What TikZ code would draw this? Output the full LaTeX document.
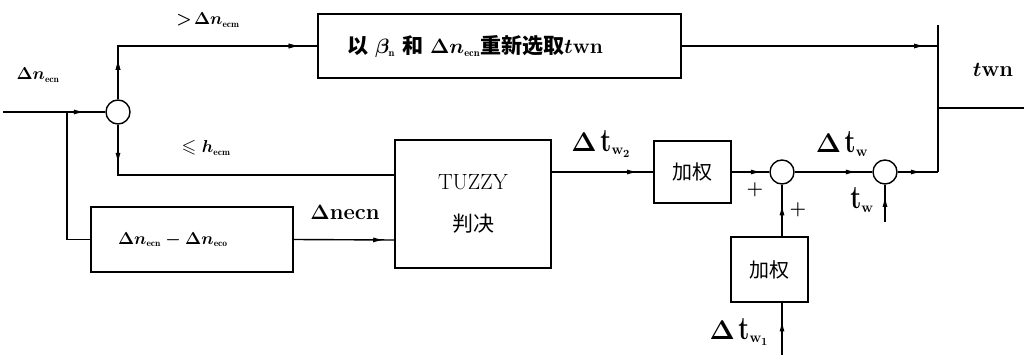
\documentclass[tikz,border=0pt]{standalone}
\usepackage{amssymb}
\usepackage{graphicx}
\usepackage{fontspec}
\newfontfamily\cjk{Noto Sans CJK SC}
\usetikzlibrary{arrows.meta,decorations.markings}
\newcommand\sbs[1]{_{\scriptscriptstyle\mathrm{#1}}}
\newcommand\bigt{\scalebox{1.15}[1.5]{\bfseries t}}
\newcommand\bigD{\scalebox{1.3}{$\boldsymbol{\Delta}$}}
\newcommand\mytoptext{{\cjk 以} $\beta\sbs{n}$ {\cjk 和} $\Delta n\sbs{ecn}${\cjk 重新选取}$t$wn}
\newcommand\mydifftext{$\Delta n\sbs{ecn}-\Delta n\sbs{eco}$}
\usepackage{amsmath}
\tikzset{
  ln/.style={line width=1.4pt},
  box/.style={draw,line width=1.4pt,shape=rectangle,inner sep=0pt},
  sumnode/.style={draw,line width=1.4pt,shape=circle,minimum size=24pt,inner sep=0pt},
  lbl/.style={inner sep=0pt,font=\fontsize{19}{21}\selectfont\bfseries\boldmath},
  biglbl/.style={inner sep=0pt,font=\fontsize{22}{24}\selectfont\bfseries\boldmath},
  arr/.style={postaction={decorate},decoration={markings,mark=at position #1 with {\arrow{Latex[length=11pt,width=5pt]}}}},
}
\begin{document}
\begin{tikzpicture}[x=1pt,y=-1pt]
\useasboundingbox (0,0) rectangle (1024,355);
\node[sumnode] (c1) at (118,112) {};
\node[box,minimum width=363pt,minimum height=64pt,text width=305pt,align=left,font=\fontsize{21}{23}\selectfont\bfseries\boldmath] (topbox) at (499.5,46) {\mytoptext};
\node[box,minimum width=202pt,minimum height=65pt,text width=148pt,align=left,font=\fontsize{19}{21}\selectfont\bfseries\boldmath] (diff) at (192,239.5) {\mydifftext};
\node[box,minimum width=156pt,minimum height=128pt,align=center,font=\fontsize{22}{25}\selectfont] (fz) at (473,204) {TUZZY\\[17pt]{\cjk\fontsize{21}{23}\selectfont 判决}};
\node[box,minimum width=77pt,minimum height=62pt,font=\fontsize{20}{22}\selectfont\cjk] (w1) at (692.5,172) {加权};
\node[sumnode] (c2) at (782,172) {};
\node[box,minimum width=77pt,minimum height=65pt,font=\fontsize{20}{22}\selectfont\cjk] (w2) at (769.5,269.5) {加权};
\node[sumnode] (c3) at (885,172) {};
\coordinate (in0) at (3,112);
\coordinate (j) at (67,112);
\coordinate (bt) at (938,25);
\coordinate (bb) at (938,172);
\coordinate (bo) at (938,108);
\coordinate (out) at (1024,108);
\coordinate (in1) at (782,355);
\coordinate (in2) at (885,222);
\draw[ln,arr=0.8] (in0) -- (c1.west);
\draw[ln,arr=0.16,arr=0.93] (c1.north) |- (topbox.west);
\draw[ln,arr=0.12] (c1.south) |- ([yshift=29pt]fz.west);
\draw[ln] (j) |- (diff.west);
\draw[ln,arr=0.9] (diff.east) -- ([yshift=-36pt]fz.west);
\draw[ln,arr=0.85] ([yshift=32pt]fz.east) -- (w1.west);
\draw[ln,arr=0.8] (w1.east) -- (c2.west);
\draw[ln,arr=0.62] (w2.north -| c2.south) -- (c2.south);
\draw[ln,arr=0.66] (in1) -- (w2.south -| c2.south);
\draw[ln,arr=0.8] (c2.east) -- (c3.west);
\draw[ln,arr=0.7] (in2) -- (c3.south);
\draw[ln,arr=0.6] (c3.east) -- (c3.east -| bb);
\draw[ln,arr=0.95] (topbox.east) -- (topbox.east -| bt);
\draw[ln] (bt) -- (bb);
\draw[ln] (bo) -- (out);
\node[lbl] (l1) at (208,20) {$>\!\Delta n\sbs{ecm}$};
\node[lbl] (l2) at (206,148) {$\leqslant h\sbs{ecm}$};
\node[lbl] (l3) at (38,75) {$\Delta n\sbs{ecn}$};
\node[lbl,font=\fontsize{22}{24}\selectfont\bfseries\boldmath] (l4) at (345,212) {$\Delta$necn};
\node[biglbl] (l5) at (601,144) {\bigD\,\bigt$_{\mathbf{w}_2}$};
\node[biglbl] (l6) at (842,144) {\bigD\,\bigt$_{\mathbf{w}}$};
\node[biglbl] (l7) at (862,200) {\bigt$_{\mathbf{w}}$};
\node[biglbl] (l8) at (739,332) {\bigD\,\bigt$_{\mathbf{w}_1}$};
\node[lbl] (l9) at (755,190) {\textbf{+}};
\node[lbl] (l10) at (798,210) {\textbf{+}};
\node[lbl,font=\fontsize{22}{24}\selectfont\bfseries\boldmath] (l11) at (993,70) {$t$wn};
\end{tikzpicture}
\end{document}
